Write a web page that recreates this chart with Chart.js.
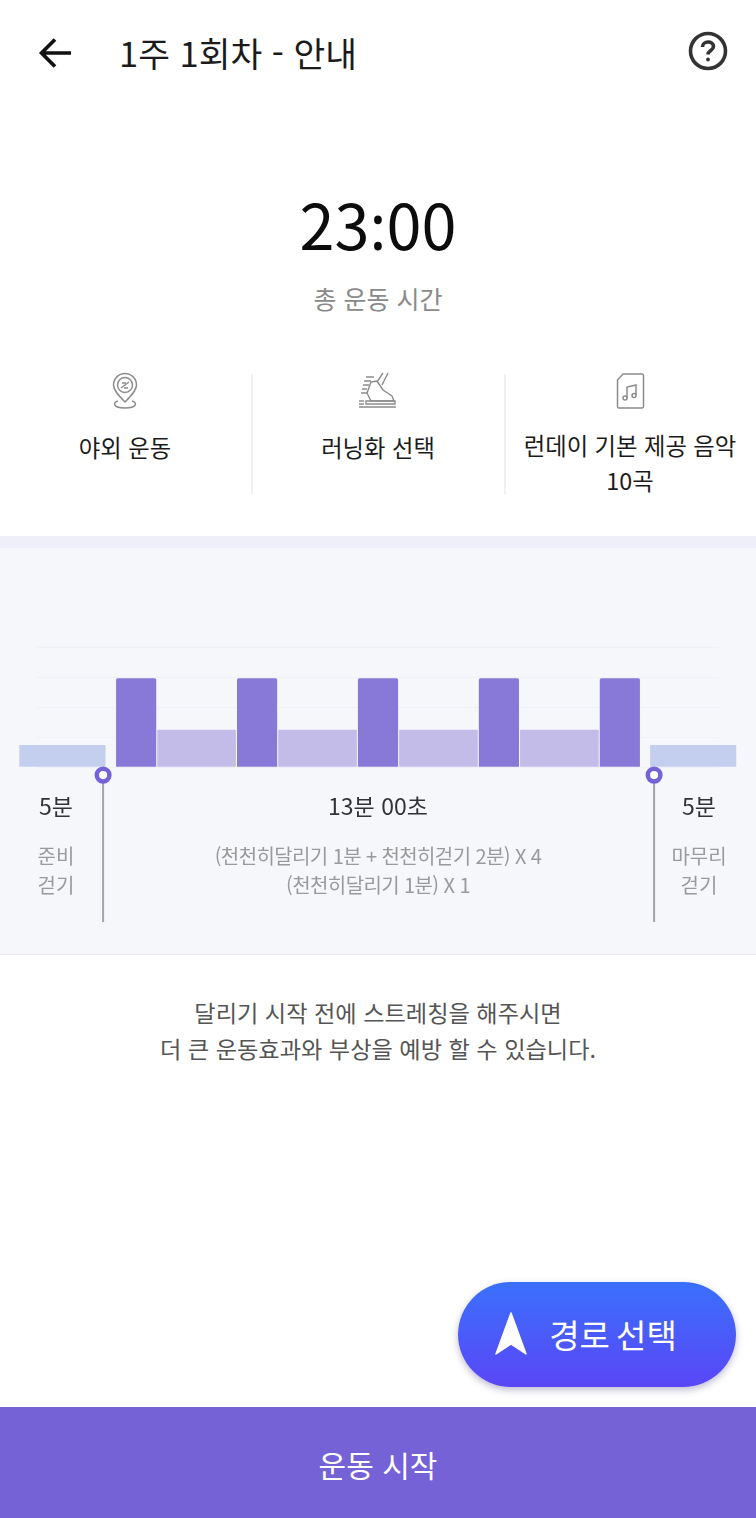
<!DOCTYPE html>
<html lang="ko">
<head>
<meta charset="utf-8">
<title>1주 1회차 - 안내</title>
<script src="https://cdn.jsdelivr.net/npm/chart.js@4"></script>
<style>
    html, body { margin: 0; padding: 0; background: #fff; }
    body { position: relative; width: 756px; height: 1518px; overflow: hidden; font-family: "Noto Sans CJK KR", "Noto Sans", sans-serif; color: #1b1b1b; }
    .abs { position: absolute; }
    .txt { position: absolute; text-align: center; white-space: nowrap; transform: translateX(-50%); }
    #band { position: absolute; left: 0; top: 536px; width: 756px; height: 12px; background: #eeeff9; }
    #panel { position: absolute; left: 0; top: 548px; width: 756px; height: 406px; background: #f6f7fb; border-bottom: 1px solid #e9e9ee; }
    #chartWrap { position: absolute; left: 0; top: 600px; width: 756px; height: 340px; }
    .divider { position: absolute; top: 374px; width: 2px; height: 120px; background: #f0f0f2; }
    #routeBtn { position: absolute; left: 458px; top: 1282px; width: 278px; height: 105px; border-radius: 53px; background: linear-gradient(180deg, #3a70fc, #5a46f6); box-shadow: 0 3px 7px rgba(70, 60, 120, 0.35); }
    #startBar { position: absolute; left: 0; top: 1407px; width: 756px; height: 111px; background: #7462d6; }
</style>
</head>
<body>

<svg class="abs" style="left:36px;top:34px" width="40" height="40" viewBox="0 0 40 40" fill="none" stroke="#111" stroke-width="3.6">
    <path d="M35 19H6M19 5.5 5.5 19 19 32.5"/>
</svg>
<div class="txt" style="left:238px;top:27px;font-size:34.5px;line-height:50px">1주 1회차 - 안내</div>
<svg class="abs" style="left:687px;top:30px" width="42" height="42" viewBox="0 0 42 42" fill="none" stroke="#333" stroke-width="3.6">
    <circle cx="21" cy="21" r="17.500"/>
    <path d="M15.5 17c0-6.500 11-6.500 11-.5 0 4-5.500 4-5.500 8"/>
    <circle cx="21" cy="29.500" r="1.2" fill="#333" stroke-width="1.400"/>
</svg>

<div class="txt" style="left:378px;top:178px;font-size:63px;line-height:90px;color:#0c0c0c">23<span style="font-family:'Noto Sans'">:</span>00</div>
<div class="txt" style="left:378px;top:279px;font-size:25px;line-height:38px;color:#8a8a8a">총 운동 시간</div>

<svg class="abs" style="left:108px;top:372px" width="34" height="40" viewBox="0 0 34 40" fill="none" stroke="#8c8c8c" stroke-width="1.500">
    <path d="M17 30C10 23 5.500 18 5.500 13a11.500 11.500 0 0 1 23 0C28.500 18 24 23 17 30Z"/>
    <circle cx="17" cy="13" r="7.500"/>
    <path d="M13 16 21 10M14 11h4M16 16h4"/>
    <path d="M10 29c-5 1-6 7 7 7s12-6 7-7"/>
</svg>
<svg class="abs" style="left:358px;top:372px" width="40" height="38" viewBox="0 0 40 38" fill="none" stroke="#8c8c8c" stroke-width="1.400">
    <path d="M25 1 19 10M30 1 24 13M8 5h8M6 9h7M5 13h6M4 17h5M3 21h6"/>
    <path d="M13 10l6-1 6 9 9 6 2 5H13l-4-8Z"/>
    <path d="M8 29h29v3H8ZM1 29h5M1 32h5M1 35h37"/>
</svg>
<svg class="abs" style="left:614px;top:372px" width="32" height="38" viewBox="0 0 32 38" fill="none" stroke="#8c8c8c" stroke-width="1.500">
    <path d="M9 2h19a1.500 1.500 0 0 1 1.500 1.500v31a1.500 1.500 0 0 1-1.500 1.500H5a1.500 1.500 0 0 1-1.500-1.500V8Z"/>
    <path d="M13 26V15l9-2v10"/>
    <circle cx="11" cy="26" r="2"/>
    <circle cx="20" cy="23.500" r="2"/>
</svg>

<div class="txt" style="left:125px;top:428px;font-size:23.3px;line-height:38px">야외 운동</div>
<div class="divider" style="left:251px"></div>
<div class="txt" style="left:378px;top:428px;font-size:23.3px;line-height:38px">러닝화 선택</div>
<div class="divider" style="left:504px"></div>
<div class="txt" style="left:630px;top:428px;font-size:23.3px;line-height:35px">런데이 기본 제공 음악<br>10곡</div>

<div id="band"></div>
<div id="panel"></div>
<div id="chartWrap"><canvas id="intervalChart" width="756" height="340"></canvas></div>

<div class="txt" style="left:56px;top:787px;font-size:23px;line-height:36px;color:#333">5분</div>
<div class="txt" style="left:378px;top:787px;font-size:23px;line-height:36px;color:#333">13분 00초</div>
<div class="txt" style="left:699px;top:787px;font-size:23px;line-height:36px;color:#333">5분</div>
<div class="txt" style="left:56px;top:841px;font-size:20px;line-height:29px;color:#9a9a9a">준비<br>걷기</div>
<div class="txt" style="left:378px;top:841px;font-size:20px;line-height:29px;color:#9a9a9a;letter-spacing:-0.6px">(천천히달리기 1분 + 천천히걷기 2분) X 4<br>(천천히달리기 1분) X 1</div>
<div class="txt" style="left:699px;top:841px;font-size:20px;line-height:29px;color:#9a9a9a">마무리<br>걷기</div>

<div class="txt" style="left:378px;top:994px;font-size:23.2px;line-height:36px;color:#555">달리기 시작 전에 스트레칭을 해주시면<br>더 큰 운동효과와 부상을 예방 할 수 있습니다.</div>

<div id="routeBtn"></div>
<svg class="abs" style="left:494px;top:1312px" width="34" height="44" viewBox="0 0 34 44">
    <path d="M17 1 32 42 17 32 2 42Z" fill="#fff" stroke="#fff" stroke-width="1.500" stroke-linejoin="round"/>
</svg>
<div class="txt" style="left:613px;top:1308px;font-size:33px;line-height:52px;color:#fff;word-spacing:-3px">경로 선택</div>

<div id="startBar"></div>
<div class="txt" style="left:378px;top:1441px;font-size:30px;line-height:46px;color:#fff">운동 시작</div>

<script>
// x = minutes into the main block, warm up and cool down sit just outside it
const warmX = [-1.33, 14.32];
const warmHeight = [0.72, 0.72];
const runX = [0.5, 3.5, 6.5, 9.5, 12.5];
const runHeight = [2.95, 2.95, 2.95, 2.95, 2.95];
const walkX = [2, 5, 8, 11];
const walkHeight = [1.23, 1.23, 1.23, 1.23];
const startMarkerX = [-0.32, -0.32];
const endMarkerX = [13.35, 13.35];
const markerY = [-0.27, -5.17];

function toPoints(xs, ys) {
    return xs.map((x, i) => ({ x: x, y: ys[i] }));
}

function markerDataset(xs) {
    return {
        type: 'line',
        data: toPoints(xs, markerY),
        borderColor: '#a3a3ab',
        borderWidth: 2,
        clip: false,
        pointRadius: [6.3, 0],
        pointBorderWidth: 4.5,
        pointBorderColor: '#7462d6',
        pointBackgroundColor: '#ffffff',
        order: 0
    };
}

new Chart(document.getElementById('intervalChart').getContext('2d'), {
    type: 'bar',
    data: {
        datasets: [
            markerDataset(startMarkerX),
            markerDataset(endMarkerX),
            { data: toPoints(warmX, warmHeight), backgroundColor: '#c4cff0', barThickness: 85.5, clip: false, order: 1 },
            { data: toPoints(runX, runHeight), backgroundColor: '#8878d8', barThickness: 39.5, borderRadius: 1.5, clip: false, order: 1 },
            { data: toPoints(walkX, walkHeight), backgroundColor: '#c3bbe8', barThickness: 78, borderRadius: 1, clip: false, order: 1 }
        ]
    },
    options: {
        responsive: false,
        animation: false,
        layout: { padding: { left: 37, right: 37, top: 47, bottom: 173 } },
        plugins: { legend: { display: false }, tooltip: { enabled: false } },
        scales: {
            x: { type: 'linear', stacked: true, offset: false, min: -1.96, max: 14.96, display: false },
            y: {
                min: 0,
                max: 4,
                afterFit: scale => { scale.width = 0; },
                border: { display: false },
                grid: { color: '#eff0f8', lineWidth: 1, drawTicks: false },
                ticks: { stepSize: 1, display: false }
            }
        }
    }
});
</script>
</body>
</html>
